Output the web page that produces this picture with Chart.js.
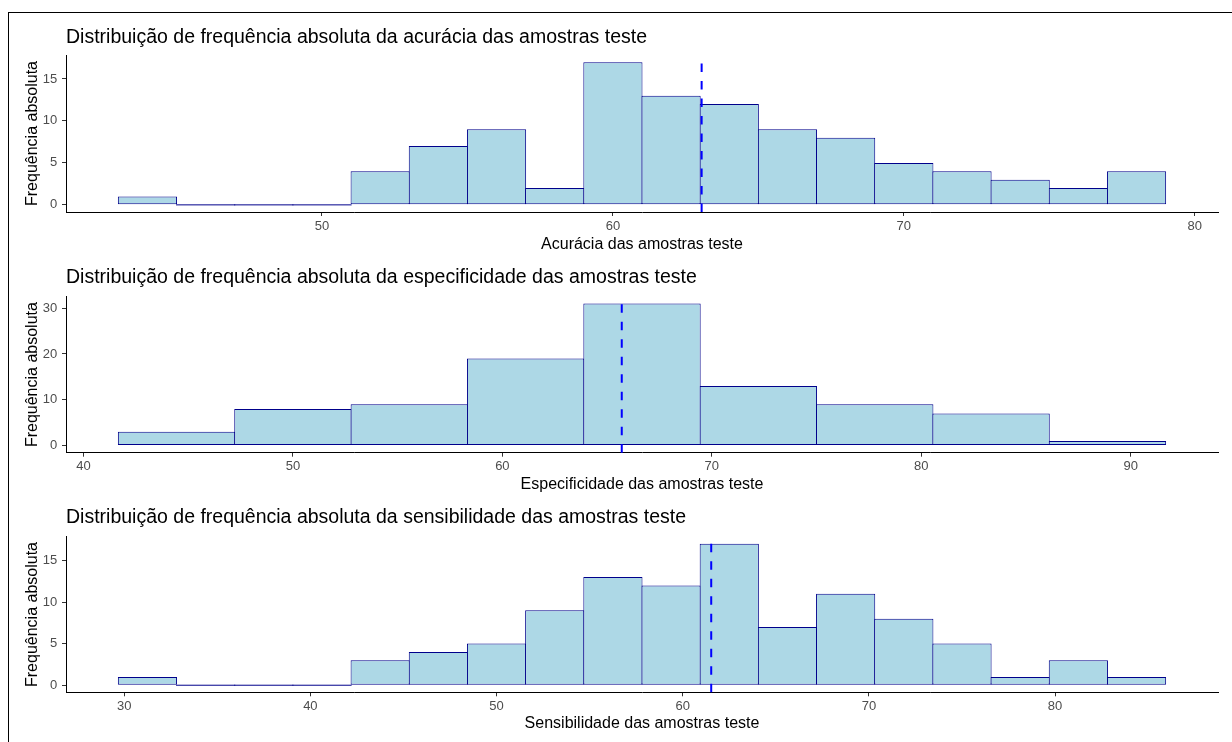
<!DOCTYPE html>
<html lang="pt-BR">
<head>
<meta charset="utf-8">
<title>Distribuição de frequência absoluta</title>
<script src="https://cdn.jsdelivr.net/npm/chart.js@4"></script>
<style>
  html, body { margin: 0; padding: 0; background: #fff; overflow: hidden; }
  body { width: 1232px; height: 742px; position: relative; }
  #moldura { position: absolute; left: 8px; top: 12px; width: 1300px; height: 800px;
             border-top: 1px solid #000; border-left: 1px solid #000; }
  canvas { position: absolute; left: 0; }
</style>
</head>
<body>
<div id="moldura"></div>
<canvas id="graficoAcuracia"></canvas>
<canvas id="graficoEspecificidade"></canvas>
<canvas id="graficoSensibilidade"></canvas>
<script>
// ---- Acurácia (%) ----
const acuraciaCentros = [44, 46, 48, 50, 52, 54, 56, 58, 60, 62, 64, 66, 68, 70, 72, 74, 76, 78];
const acuraciaFreq    = [1, 0, 0, 0, 4, 7, 9, 2, 17, 13, 12, 9, 8, 5, 4, 3, 2, 4];
const acuraciaLargura = 2;
const acuraciaMedia   = 63.05;
const acuraciaTicksX  = [50, 60, 70, 80];
const acuraciaTicksY  = [0, 5, 10, 15];

// ---- Especificidade (%) ----
const especCentros = [44.444, 50.0, 55.556, 61.111, 66.667, 72.222, 77.778, 83.333, 88.889];
const especFreq    = [3, 8, 9, 19, 31, 13, 9, 7, 1];
const especLargura = 5.5556;
const especMedia   = 65.7;
const especTicksX  = [40, 50, 60, 70, 80, 90];
const especTicksY  = [0, 10, 20, 30];

// ---- Sensibilidade (%) ----
const sensCentros = [31.25, 34.375, 37.5, 40.625, 43.75, 46.875, 50.0, 53.125, 56.25,
                     59.375, 62.5, 65.625, 68.75, 71.875, 75.0, 78.125, 81.25, 84.375];
const sensFreq    = [1, 0, 0, 0, 3, 4, 5, 9, 13, 12, 17, 7, 11, 8, 5, 1, 3, 1];
const sensLargura = 3.125;
const sensMedia   = 61.53;
const sensTicksX  = [30, 40, 50, 60, 70, 80];
const sensTicksY  = [0, 5, 10, 15];

const rotuloY = 'Frequência absoluta';

const paineis = [
  { id: 'graficoAcuracia',
    titulo: 'Distribuição de frequência absoluta da acurácia das amostras teste',
    eixoX: 'Acurácia das amostras teste',
    centros: acuraciaCentros, freq: acuraciaFreq, largura: acuraciaLargura,
    media: acuraciaMedia, ticksX: acuraciaTicksX, ticksY: acuraciaTicksY },
  { id: 'graficoEspecificidade',
    titulo: 'Distribuição de frequência absoluta da especificidade das amostras teste',
    eixoX: 'Especificidade das amostras teste',
    centros: especCentros, freq: especFreq, largura: especLargura,
    media: especMedia, ticksX: especTicksX, ticksY: especTicksY },
  { id: 'graficoSensibilidade',
    titulo: 'Distribuição de frequência absoluta da sensibilidade das amostras teste',
    eixoX: 'Sensibilidade das amostras teste',
    centros: sensCentros, freq: sensFreq, largura: sensLargura,
    media: sensMedia, ticksX: sensTicksX, ticksY: sensTicksY }
];

// page placement of each panel: title centre, plot top, plot bottom, x-title centre
const posicoes = [
  { tituloY: 37.5, topo: 55,    base: 212,   eixoXY: 245 },
  { tituloY: 278,  topo: 296.5, base: 452.7, eixoXY: 485 },
  { tituloY: 517.5, topo: 536.7, base: 692.3, eixoXY: 724 }
];

const FONTE = "'Liberation Sans', Arial, Helvetica, sans-serif";
const LARGURA = 1232, ESQ = 66, DIR = 1218;
const TAM_TITULO = 19.5, TAM_EIXO = 16, TAM_TICK = 13;

// bins whose count is zero still show their outline on the baseline
const binsVazios = {
  id: 'binsVazios',
  afterDatasetsDraw(chart) {
    const meta = chart.getDatasetMeta(0);
    const ds = chart.data.datasets[0];
    const y0 = chart.scales.y.getPixelForValue(0);
    const ctx = chart.ctx;
    ctx.save();
    ctx.strokeStyle = ds.borderColor;
    ctx.lineWidth = 1;
    meta.data.forEach((el, i) => {
      if (ds.data[i].y !== 0) return;
      ctx.beginPath();
      ctx.moveTo(el.x - el.width / 2, y0);
      ctx.lineTo(el.x + el.width / 2, y0);
      ctx.stroke();
    });
    ctx.restore();
  }
};

// dashed vertical line at the mean, drawn upward from the baseline
const linhaMedia = {
  id: 'linhaMedia',
  afterDatasetsDraw(chart, args, opts) {
    const { ctx, chartArea } = chart;
    const x = chart.scales.x.getPixelForValue(opts.valor);
    ctx.save();
    ctx.strokeStyle = '#0000FF';
    ctx.lineWidth = 2;
    ctx.setLineDash([8.5, 9]);
    ctx.beginPath();
    ctx.moveTo(x, chartArea.bottom);
    ctx.lineTo(x, chartArea.top);
    ctx.stroke();
    ctx.restore();
  }
};

paineis.forEach((p, k) => {
  const pos = posicoes[k];
  const el = document.getElementById(p.id);
  const meiaLinhaTitulo = TAM_TITULO * 1.2 / 2;
  const topoCanvas = Math.floor(pos.tituloY - meiaLinhaTitulo);
  const padTopo = pos.tituloY - meiaLinhaTitulo - topoCanvas;
  const altura = Math.ceil(pos.base + 46) - topoCanvas;
  const alturaEixoX = topoCanvas + altura - pos.base;
  const padTituloX = alturaEixoX - TAM_EIXO * 1.2 / 2 - (pos.eixoXY - pos.base);

  el.style.top = topoCanvas + 'px';
  el.width = LARGURA;
  el.height = altura;

  const lo = p.centros[0] - p.largura / 2;
  const hi = p.centros[p.centros.length - 1] + p.largura / 2;
  const xMin = lo - 0.05 * (hi - lo), xMax = hi + 0.05 * (hi - lo);
  const yTop = Math.max(...p.freq);
  const binPx = (DIR - ESQ) * p.largura / (xMax - xMin);

  const eixoComum = {
    grid: { display: true, offset: false, drawOnChartArea: false, drawTicks: true, tickLength: 4,
            tickColor: '#333333', tickWidth: 1 },
    border: { display: true, color: '#000000', width: 1 }
  };

  new Chart(el, {
    type: 'bar',
    data: {
      datasets: [{
        data: p.centros.map((c, i) => ({ x: c, y: p.freq[i] })),
        backgroundColor: '#ADD8E6',
        borderColor: '#00008B',
        borderWidth: 1,
        borderSkipped: false,
        categoryPercentage: 1,
        barPercentage: 1 + 1 / binPx
      }]
    },
    options: {
      responsive: false,
      animation: false,
      events: [],
      layout: { padding: { top: padTopo, right: LARGURA - DIR, left: 0, bottom: 0 } },
      plugins: {
        legend: { display: false },
        tooltip: { enabled: false },
        title: {
          display: true, text: p.titulo, align: 'start', fullSize: false,
          color: '#000000', font: { family: FONTE, size: TAM_TITULO, weight: 'normal' },
          padding: { top: 0, bottom: pos.topo - pos.tituloY - meiaLinhaTitulo }
        },
        linhaMedia: { valor: p.media }
      },
      scales: {
        x: {
          type: 'linear', min: xMin, max: xMax, offset: false,
          afterFit(s) { s.height = alturaEixoX; },
          afterBuildTicks(s) { s.ticks = p.ticksX.map(v => ({ value: v })); },
          ...eixoComum,
          ticks: { color: '#4D4D4D', font: { family: FONTE, size: TAM_TICK }, padding: 2.2,
                   maxRotation: 0, autoSkip: false },
          title: { display: true, text: p.eixoX, color: '#000000',
                   font: { family: FONTE, size: TAM_EIXO }, padding: { top: 0, bottom: padTituloX } }
        },
        y: {
          type: 'linear', min: -0.05 * yTop, max: 1.05 * yTop,
          afterFit(s) { s.width = ESQ; },
          afterBuildTicks(s) { s.ticks = p.ticksY.map(v => ({ value: v })); },
          ...eixoComum,
          ticks: { color: '#4D4D4D', font: { family: FONTE, size: TAM_TICK }, padding: 4.7 },
          title: { display: true, text: rotuloY, color: '#000000',
                   font: { family: FONTE, size: TAM_EIXO }, padding: { top: 23.4, bottom: 0 } }
        }
      }
    },
    plugins: [binsVazios, linhaMedia]
  });
});
</script>
</body>
</html>
